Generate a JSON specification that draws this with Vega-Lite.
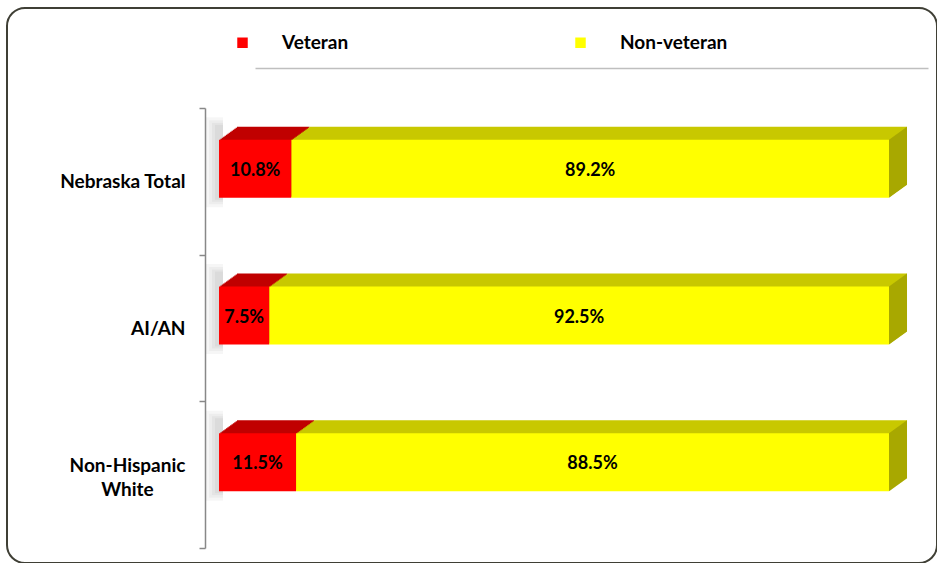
{
  "$schema": "https://vega.github.io/schema/vega-lite/v6.json",
  "width": 930,
  "height": 555,
  "autosize": {"type": "none"},
  "padding": {"left": 7, "top": 8, "right": 0, "bottom": 0},
  "background": "white",
  "config": {
    "view": {"stroke": "#3F3F35", "strokeWidth": 2, "cornerRadius": 18, "fill": "white"},
    "font": "Lato",
    "text": {"font": "Lato"}
  },
  "data": {
    "values": [
      {"category": "Nebraska Total", "series": "Veteran", "value": 0.108},
      {"category": "Nebraska Total", "series": "Non-veteran", "value": 0.892},
      {"category": "AI/AN", "series": "Veteran", "value": 0.075},
      {"category": "AI/AN", "series": "Non-veteran", "value": 0.925},
      {"category": "Non-Hispanic White", "series": "Veteran", "value": 0.115},
      {"category": "Non-Hispanic White", "series": "Non-veteran", "value": 0.885}
    ]
  },
  "transform": [
    {"stack": "value", "groupby": ["category"], "sort": [{"field": "series", "order": "descending"}], "as": ["v0", "v1"]}
  ],
  "encoding": {
    "y": {
      "field": "category",
      "type": "nominal",
      "sort": ["Nebraska Total", "AI/AN", "Non-Hispanic White"],
      "scale": {"range": [100, 540], "paddingInner": 0, "paddingOuter": 0},
      "axis": {
        "title": null,
        "offset": -198,
        "tickBand": "extent",
        "domainColor": "#888888",
        "domainWidth": 1.5,
        "tickColor": "#888888",
        "tickWidth": 1.5,
        "tickSize": 6,
        "labelFont": "Lato",
        "labelFontWeight": "bold",
        "labelFontSize": 19,
        "labelColor": "#000000",
        "labelLineHeight": 24,
        "labelLimit": 300,
        "labelExpr": "datum.value === 'Non-Hispanic White' ? ['Non-Hispanic', 'White'] : datum.value",
        "labelAlign": {"condition": {"test": "datum.value === 'Non-Hispanic White'", "value": "center"}, "value": "right"},
        "labelPadding": {"condition": {"test": "datum.value === 'Non-Hispanic White'", "value": 72}, "value": 14},
        "labelOffset": {"condition": {"test": "datum.value === 'Non-Hispanic White'", "value": -9}, "value": 0}
      }
    }
  },
  "layer": [
    {
      "encoding": {
        "x": {"field": "v0", "type": "quantitative", "scale": {"domain": [0.0537, 1.0582], "range": [248, 921], "nice": false, "zero": false},
              "axis": {"orient": "top", "offset": -60, "domainColor": "#BFBFBF", "domainWidth": 1.5, "ticks": false, "labels": false, "grid": false, "title": null}},
        "x2": {"field": "v0"},
        "color": {"value": "#000000"},
        "opacity": {"condition": {"test": "datum.series === 'Veteran'", "value": 0.035}, "value": 0}
      },
      "layer": [
        {"mark": {"type": "bar", "height": 90, "yOffset": -19, "xOffset": -13, "x2Offset": 4}},
        {"mark": {"type": "bar", "height": 84, "yOffset": -19, "xOffset": -10, "x2Offset": 4}},
        {"mark": {"type": "bar", "height": 79, "yOffset": -19, "xOffset": -7, "x2Offset": 4}},
        {"mark": {"type": "bar", "height": 75, "yOffset": -19, "xOffset": -4, "x2Offset": 4}}
      ]
    },
    {
      "encoding": {
        "x": {"field": "v0", "type": "quantitative", "scale": {"domain": [0.0537, 1.0582], "range": [248, 921], "nice": false, "zero": false},
              "axis": {"orient": "top", "offset": -60, "domainColor": "#BFBFBF", "domainWidth": 1.5, "ticks": false, "labels": false, "grid": false, "title": null}},
        "x2": {"field": "v1"},
        "fill": {"condition": {"test": "datum.series === 'Veteran'", "value": "#C00000"}, "value": "#C8C800"}
      },
      "layer": [
        {"mark": {"type": "bar", "height": 58, "xOffset": 18, "x2Offset": 18, "yOffset": -25.5}},
        {"mark": {"type": "bar", "height": 58, "xOffset": 16.62, "x2Offset": 16.62, "yOffset": -24.5}},
        {"mark": {"type": "bar", "height": 58, "xOffset": 15.23, "x2Offset": 15.23, "yOffset": -23.5}},
        {"mark": {"type": "bar", "height": 58, "xOffset": 13.85, "x2Offset": 13.85, "yOffset": -22.5}},
        {"mark": {"type": "bar", "height": 58, "xOffset": 12.46, "x2Offset": 12.46, "yOffset": -21.5}},
        {"mark": {"type": "bar", "height": 58, "xOffset": 11.08, "x2Offset": 11.08, "yOffset": -20.5}},
        {"mark": {"type": "bar", "height": 58, "xOffset": 9.69, "x2Offset": 9.69, "yOffset": -19.5}},
        {"mark": {"type": "bar", "height": 58, "xOffset": 8.31, "x2Offset": 8.31, "yOffset": -18.5}},
        {"mark": {"type": "bar", "height": 58, "xOffset": 6.92, "x2Offset": 6.92, "yOffset": -17.5}},
        {"mark": {"type": "bar", "height": 58, "xOffset": 5.54, "x2Offset": 5.54, "yOffset": -16.5}},
        {"mark": {"type": "bar", "height": 58, "xOffset": 4.15, "x2Offset": 4.15, "yOffset": -15.5}},
        {"mark": {"type": "bar", "height": 58, "xOffset": 2.77, "x2Offset": 2.77, "yOffset": -14.5}},
        {"mark": {"type": "bar", "height": 58, "xOffset": 1.38, "x2Offset": 1.38, "yOffset": -13.5}}
      ]
    },
    {
      "mark": {"type": "bar", "height": 58, "yOffset": -12.5},
      "encoding": {
        "x": {"field": "v0", "type": "quantitative", "scale": {"domain": [0.0537, 1.0582], "range": [248, 921], "nice": false, "zero": false},
              "axis": {"orient": "top", "offset": -60, "domainColor": "#BFBFBF", "domainWidth": 1.5, "ticks": false, "labels": false, "grid": false, "title": null}},
        "x2": {"field": "v1"},
        "color": {
          "field": "series",
          "type": "nominal",
          "scale": {"domain": ["Veteran", "Non-veteran"], "range": ["#FF0000", "#FFFF00"]},
          "legend": {
            "title": null,
            "orient": "none",
            "direction": "horizontal",
            "legendX": 226,
            "legendY": 25,
            "padding": 0,
            "symbolType": "square",
            "symbolSize": 110,
            "symbolStrokeWidth": 0,
            "labelOffset": 30,
            "columnPadding": 222,
            "labelFont": "Lato",
            "labelFontWeight": "bold",
            "labelFontSize": 19,
            "labelColor": "#000000"
          }
        }
      }
    },
    {
      "mark": {"type": "point", "shape": "M0,-0.6905L0.4286,-1L0.4286,0.381L0,0.6905Z", "size": 7056, "filled": true, "strokeWidth": 0, "yOffset": -12.5},
      "encoding": {
        "x": {"field": "v1", "type": "quantitative", "scale": {"domain": [0.0537, 1.0582], "range": [248, 921], "nice": false, "zero": false},
              "axis": {"orient": "top", "offset": -60, "domainColor": "#BFBFBF", "domainWidth": 1.5, "ticks": false, "labels": false, "grid": false, "title": null}},
        "fill": {"value": "#A8A800"},
        "opacity": {"condition": {"test": "datum.series === 'Veteran'", "value": 0}, "value": 1}
      }
    },
    {
      "transform": [{"calculate": "(datum.v0 + datum.v1) / 2", "as": "mid"}],
      "mark": {"type": "text", "font": "Lato", "fontWeight": "bold", "fontSize": 18, "color": "#000000", "baseline": "middle", "align": "center", "yOffset": -10.5},
      "encoding": {
        "x": {"field": "mid", "type": "quantitative", "scale": {"domain": [0.0537, 1.0582], "range": [248, 921], "nice": false, "zero": false},
              "axis": {"orient": "top", "offset": -60, "domainColor": "#BFBFBF", "domainWidth": 1.5, "ticks": false, "labels": false, "grid": false, "title": null}},
        "text": {"field": "value", "type": "quantitative", "format": ".1%"}
      }
    }
  ]
}
